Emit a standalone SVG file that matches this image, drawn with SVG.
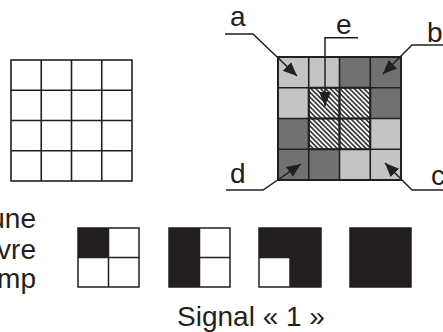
<svg xmlns="http://www.w3.org/2000/svg" width="443" height="332" viewBox="0 0 443 332">
<defs>
<style>
.t{font-family:"Liberation Sans",Arial,sans-serif;font-size:28px;fill:#231f20}
.g{fill:none;stroke:#231f20;stroke-width:1.6}
.lt{fill:#c4c4c4}
.dk{fill:#717171}
.ld{fill:none;stroke:#231f20;stroke-width:1.5}
.blk{fill:#231f20}
</style>
<pattern id="hatch" patternUnits="userSpaceOnUse" width="3.4" height="3.4" patternTransform="rotate(-45)">
<rect width="3.4" height="3.4" fill="#fff"/>
<line x1="0.85" y1="0" x2="0.85" y2="3.4" stroke="#231f20" stroke-width="1.5"/>
</pattern>
<marker id="ah" markerUnits="userSpaceOnUse" markerWidth="16" markerHeight="14" refX="14" refY="6" orient="auto">
<path d="M0,0 L14,6 L0,12 Z" fill="#231f20"/>
</marker>
</defs>

<g id="grid-left">
<rect class="g" x="11" y="60" width="121" height="121"/>
<path class="g" d="M41.25,60V181M71.5,60V181M101.75,60V181M11,90.25H132M11,120.5H132M11,150.75H132"/>
</g>

<g id="grid-right">
<rect class="lt" x="278" y="57" width="30.75" height="30.75"/>
<rect class="lt" x="308.75" y="57" width="30.75" height="30.75"/>
<rect class="dk" x="339.5" y="57" width="30.75" height="30.75"/>
<rect class="dk" x="370.25" y="57" width="30.75" height="30.75"/>
<rect class="lt" x="278" y="87.75" width="30.75" height="30.75"/>
<rect class="dk" x="370.25" y="87.75" width="30.75" height="30.75"/>
<rect class="dk" x="278" y="118.5" width="30.75" height="30.75"/>
<rect class="lt" x="370.25" y="118.5" width="30.75" height="30.75"/>
<rect class="dk" x="278" y="149.25" width="30.75" height="30.75"/>
<rect class="dk" x="308.75" y="149.25" width="30.75" height="30.75"/>
<rect class="lt" x="339.5" y="149.25" width="30.75" height="30.75"/>
<rect class="lt" x="370.25" y="149.25" width="30.75" height="30.75"/>
<rect x="308.75" y="87.75" width="61.5" height="61.5" fill="url(#hatch)"/>
<path class="g" d="M308.75,57V180M339.5,57V180M370.25,57V180M278,87.75H401M278,118.5H401M278,149.25H401"/>
<rect x="308.75" y="87.75" width="61.5" height="61.5" fill="none" stroke="#231f20" stroke-width="2"/>
<path d="M339.5,87.75V149.25M308.75,118.5H370.25" stroke="#231f20" stroke-width="2"/>
<rect x="278" y="57" width="123" height="123" fill="none" stroke="#231f20" stroke-width="2"/>
</g>

<g id="labels">
<text class="t" x="230" y="26">a</text>
<text class="t" x="336" y="34">e</text>
<text class="t" x="427" y="42">b</text>
<text class="t" x="230" y="183">d</text>
<text class="t" x="431" y="185">c</text>
</g>

<g id="connectors">
<path class="ld" d="M225,34H253L297,76" marker-end="url(#ah)"/>
<path class="ld" d="M358,37.7H325V106" marker-end="url(#ah)"/>
<path class="ld" d="M443,45H412L383,74" marker-end="url(#ah)"/>
<path class="ld" d="M226,190H263L301,164" marker-end="url(#ah)"/>
<path class="ld" d="M443,190H412L385,163" marker-end="url(#ah)"/>
</g>

<g id="left-text">
<text class="t" x="36" y="228" text-anchor="end">une</text>
<text class="t" x="36" y="259" text-anchor="end">vre</text>
<text class="t" x="36" y="288" text-anchor="end">mp</text>
</g>

<g id="sq1">
<rect class="blk" x="78" y="228" width="30.5" height="29.5"/>
<rect class="ld" x="78" y="228" width="61" height="59"/>
<path class="ld" d="M108.5,228V287M78,257.5H139"/>
</g>
<g id="sq2">
<rect class="blk" x="169" y="228" width="30.5" height="59"/>
<rect class="ld" x="169" y="228" width="61" height="59"/>
<path class="ld" d="M199.5,228V287M199.5,257.5H230"/>
</g>
<g id="sq3">
<rect class="blk" x="259" y="228" width="62" height="59"/>
<rect x="259" y="257.5" width="31" height="29.5" fill="#fff"/>
<rect class="ld" x="259" y="228" width="62" height="59"/>
<path class="ld" d="M290,257.5V287M259,257.5H290"/>
</g>
<g id="sq4">
<rect class="blk" x="350" y="228" width="61" height="59" stroke="#231f20" stroke-width="1.5"/>
</g>

<text class="t" x="251" y="326" text-anchor="middle">Signal « 1 »</text>
</svg>
